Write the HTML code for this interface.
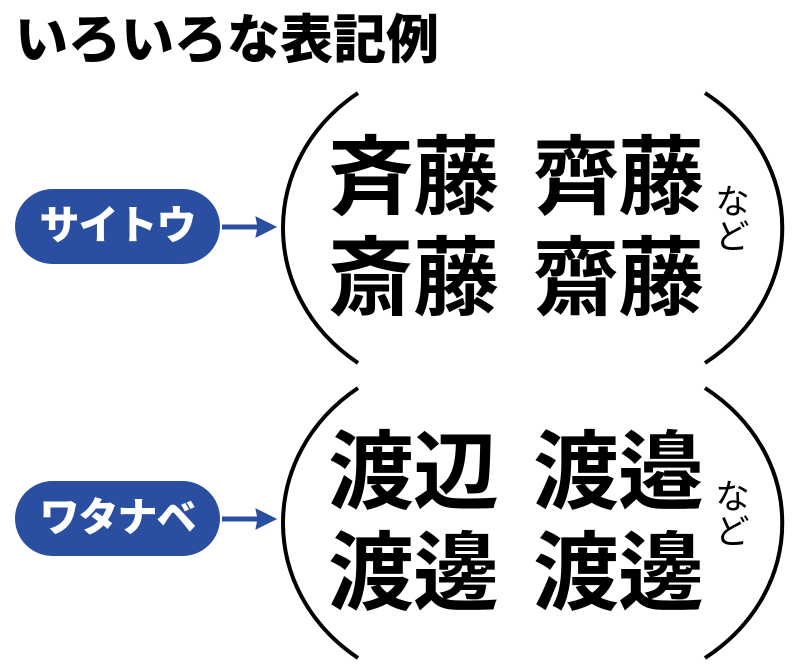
<!DOCTYPE html>
<html><head><meta charset="utf-8"><style>
body{margin:0;width:800px;height:671px;background:#fff;position:relative;overflow:hidden;font-family:"Liberation Sans","Noto Sans CJK JP",sans-serif;}
.t{position:absolute;line-height:1;font-weight:900;color:#000;white-space:nowrap;}
.k{font-size:86px;letter-spacing:-1px;font-weight:700;}
.pill{position:absolute;left:15px;width:205px;height:75px;border-radius:38px;background:#2a4fa0;color:#fff;font-weight:900;font-size:40px;line-height:75px;text-align:center;letter-spacing:-1px;}
.nado{position:absolute;writing-mode:vertical-rl;font-size:35px;font-weight:400;line-height:1;}
</style></head><body>
<div class="t" style="left:15px;top:14px;font-size:53px;">いろいろな表記例</div>

<div class="pill" style="top:189px;">サイトウ</div>
<div class="pill" style="top:481px;">ワタナベ</div>

<svg width="800" height="671" style="position:absolute;left:0;top:0">
<g stroke="#000" stroke-width="4" fill="none">
<path d="M358 93 C258 160 258 296 358 363"/>
<path d="M705 93 C808 160 808 296 705 363"/>
<path d="M358 388 C258 455 258 591 358 658"/>
<path d="M705 388 C808 455 808 591 705 658"/>
</g>
<g stroke="#2a4fa0" stroke-width="5" fill="#2a4fa0">
<line x1="222" y1="227" x2="262" y2="227"/>
<polygon points="276,227 256,217 258,227 256,237" stroke-width="1"/>
<line x1="222" y1="519" x2="262" y2="519"/>
<polygon points="276,519 256,509 258,519 256,529" stroke-width="1"/>
</g>
</svg>

<div class="t k" style="left:328px;top:135px;">斉藤</div>
<div class="t k" style="left:533px;top:135px;">齊藤</div>
<div class="t k" style="left:328px;top:236px;">斎藤</div>
<div class="t k" style="left:533px;top:236px;">齋藤</div>
<div class="nado" style="left:712px;top:183px;">など</div>

<div class="t k" style="left:328px;top:430px;">渡辺</div>
<div class="t k" style="left:533px;top:430px;">渡邉</div>
<div class="t k" style="left:328px;top:531px;">渡邊</div>
<div class="t k" style="left:533px;top:531px;">渡邊</div>
<div class="nado" style="left:712px;top:478px;">など</div>
</body></html>
